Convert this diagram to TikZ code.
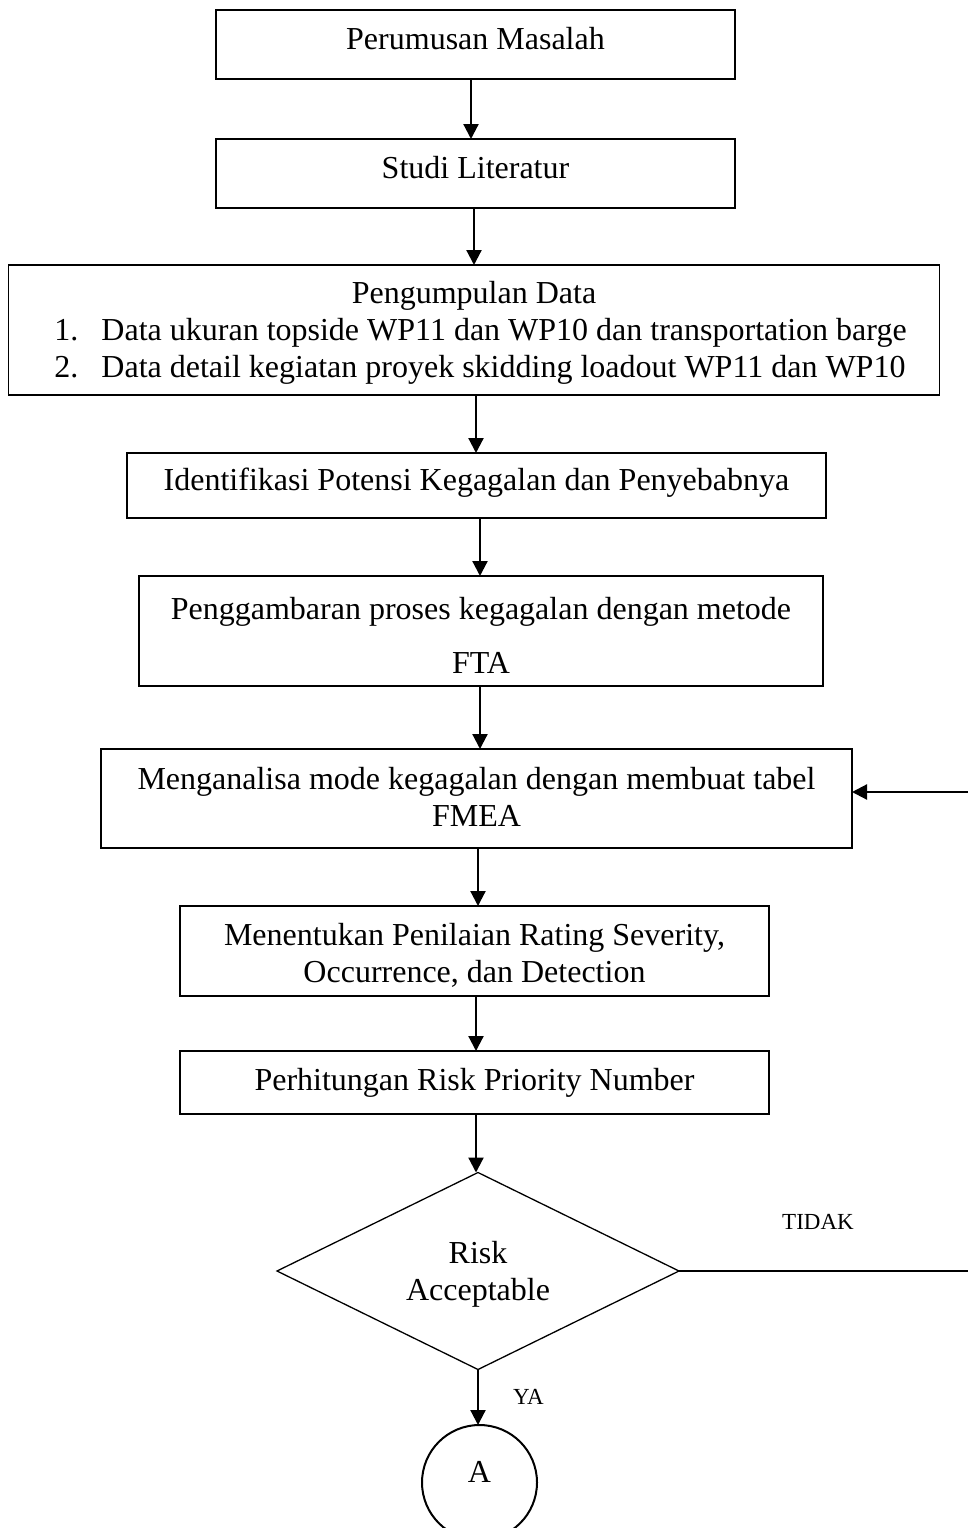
\documentclass[tikz,border=0pt]{standalone}
\usepackage{fontspec}
\setmainfont{Liberation Serif}
\usetikzlibrary{shapes.geometric,arrows.meta}
% several centred lines whose first baseline is the node's baseline
\newcommand\flowlines[1]{\begin{tabular}[t]{@{}c@{}}#1\end{tabular}}
\begin{document}
\begin{tikzpicture}[x=1pt,y=-1pt,
  every node/.style={inner sep=0pt, outer sep=0pt},
  body/.style={font=\fontsize{32}{37}\selectfont},
  stepbox/.style={draw, line width=1.3pt, rectangle, body, text height=30pt},
  decision/.style={draw, line width=1.3pt, diamond, shape aspect=2, body, text height=20pt},
  joint/.style={draw, line width=2pt, circle, body, text height=30pt},
  flow/.style={line width=2.2pt, -{Triangle[length=15pt,width=15pt]}},
  loopline/.style={line width=1.6pt},
  answer/.style={font=\fontsize{23}{27}\selectfont}]
\useasboundingbox (0,0) rectangle (968,1528);

% process steps
\node[stepbox, minimum width=519pt, minimum height=69pt, text depth=21pt]
  (b1) at (475.5,44.5) {Perumusan Masalah};
\node[stepbox, minimum width=519pt, minimum height=69pt, text depth=21pt]
  (b2) at (475.5,173.5) {Studi Literatur};
\node[stepbox, minimum width=931pt, minimum height=130pt, text depth=84pt]
  (b3) at (474,330) {\begin{tabular}[t]{@{}l@{}}
    \makebox[931pt]{Pengumpulan Data}\\
    \hspace*{46pt}\makebox[47pt][l]{1.}Data ukuran topside WP11 dan WP10 dan transportation barge\\
    \hspace*{46pt}\makebox[47pt][l]{2.}Data detail kegiatan proyek skidding loadout WP11 dan WP10
  \end{tabular}};
\node[stepbox, minimum width=699pt, minimum height=65pt, text depth=21pt]
  (b4) at (476.5,485.5) {Identifikasi Potensi Kegagalan dan Penyebabnya};
\node[stepbox, minimum width=684pt, minimum height=110pt, text depth=54pt]
  (b5) at (481,631) {\flowlines{Penggambaran proses kegagalan dengan metode\\[17pt]FTA}};
\node[stepbox, minimum width=751pt, minimum height=99pt, text depth=49pt]
  (b6) at (476.5,798.5) {\flowlines{Menganalisa mode kegagalan dengan membuat tabel\\FMEA}};
\node[stepbox, minimum width=589pt, minimum height=90pt, text depth=42pt]
  (b7) at (474.5,951) {\flowlines{Menentukan Penilaian Rating Severity,\\Occurrence, dan Detection}};
\node[stepbox, minimum width=589pt, minimum height=63pt, text depth=15pt]
  (b8) at (474.5,1082.5) {Perhitungan Risk Priority Number};

% decision and off-page connector
\node[decision, minimum width=402pt, minimum height=197pt, text depth=35pt]
  (risk) at (478,1271) {\flowlines{Risk\\Acceptable}};
\node[joint, minimum size=115pt, text depth=31pt]
  (conn) at (479.5,1482.5) {A};

% branch labels
\node[answer, anchor=base] (no) at (818,1229) {TIDAK};
\node[answer, anchor=base west] (yes) at (513,1404) {YA};

% main flow
\draw[flow] ([xshift=-4.5pt]b1.south) -- ([xshift=-4.5pt]b1.south |- b2.north);
\draw[flow] ([xshift=-1.5pt]b2.south) -- ([xshift=-1.5pt]b2.south |- b3.north);
\draw[flow] ([xshift=2pt]b3.south) -- ([xshift=2pt]b3.south |- b4.north);
\draw[flow] ([xshift=3.5pt]b4.south) -- ([xshift=3.5pt]b4.south |- b5.north);
\draw[flow] ([xshift=-1pt]b5.south) -- ([xshift=-1pt]b5.south |- b6.north);
\draw[flow] ([xshift=1.5pt]b6.south) -- ([xshift=1.5pt]b6.south |- b7.north);
\draw[flow] ([xshift=1.5pt]b7.south) -- ([xshift=1.5pt]b7.south |- b8.north);
\draw[flow] ([xshift=1.5pt]b8.south) -- ([xshift=1.5pt]b8.south |- risk.north);
\draw[flow] (risk.south) -- (risk.south |- conn.north);

% "TIDAK" loop back to the FMEA step, running along the right edge
\coordinate (loopdown) at (risk.east -| 971,0);
\coordinate (loopup) at (971,792);
\draw[loopline] (risk.east) -- (loopdown) -- (loopup);
\draw[flow] (loopup) -- (b6.east |- loopup);
\end{tikzpicture}
\end{document}
